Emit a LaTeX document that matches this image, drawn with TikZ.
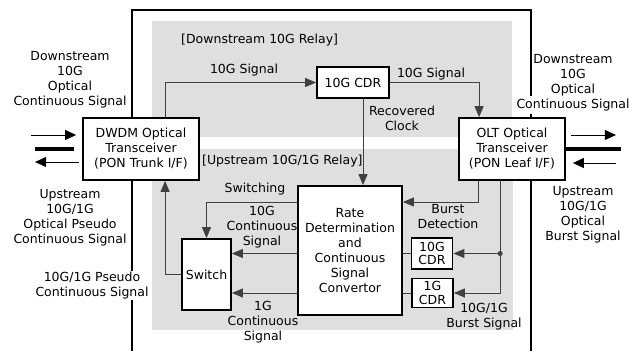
\documentclass[tikz,border=0pt]{standalone}
\usepackage{fontspec}
\setmainfont{DejaVu Sans}
\usetikzlibrary{arrows.meta}

\tikzset{
  box/.style={draw, line width=1.8pt, fill=white, align=center, inner sep=0pt},
  conn/.style={-{Triangle[length=11pt,width=9pt]}, line width=1pt, black!75},
  wire/.style={line width=1pt, black!75},
  ext/.style={-{Triangle[length=11pt,width=10pt]}, line width=1pt},
  lbl/.style={align=center, inner sep=0pt},
  panel/.style={fill=gray!25},
  frame/.style={line width=1.8pt},
}

\begin{document}
\begin{tikzpicture}[x=1pt, y=-1pt, font=\fontsize{12.5}{15}\selectfont]
  \useasboundingbox (0,0) rectangle (640,351);
  % relay areas
  \fill[panel] (152,21) rectangle (512,137);
  \fill[panel] (152,149) rectangle (513,330);
  % equipment frame
  \draw[frame] (132,118) -- (132,10) -- (531,10) -- (531,96);
  \draw[frame] (531,114) -- (531,118);
  \draw[frame] (132,180) -- (132,351);
  \draw[frame] (531,180) -- (531,351);

  % blocks
  \node[box, minimum width=116pt, minimum height=62pt] (dwdm) at (141,149) {DWDM Optical\\Transceiver\\(PON Trunk I/F)};
  \node[box, minimum width=106pt, minimum height=62pt] (olt) at (512,149) {OLT Optical\\Transceiver\\(PON Leaf I/F)};
  \node[box, minimum width=72pt, minimum height=31pt] (cdrtop) at (353,82.5) {10G CDR};
  \node[box, minimum width=104pt, minimum height=129pt] (rate) at (350,250.5) {Rate\\Determination\\and\\Continuous\\Signal\\Convertor};
  \node[box, minimum width=49pt, minimum height=71pt] (switch) at (206.5,274.5) {Switch};
  \node[box, minimum width=41pt, minimum height=31pt, font=\fontsize{12.5}{13.5}\selectfont] (cdrten) at (432,253.5) {10G\\CDR};
  \node[box, minimum width=41pt, minimum height=29pt, font=\fontsize{12.5}{13.5}\selectfont] (cdrone) at (432.5,293) {1G\\CDR};

  % downstream relay
  \draw[conn] ([xshift=83pt]dwdm.north west) |- (cdrtop.west);
  \draw[conn] (cdrtop.east) -| ([xshift=21pt]olt.north west);
  \draw[conn] ([xshift=10pt]cdrtop.south) -- ([xshift=10pt]cdrtop.south |- rate.north);

  % upstream relay
  \draw[conn] ([xshift=20pt]olt.south west) |- ([yshift=48.5pt]rate.east);
  \coordinate (burst) at ([xshift=42pt]olt.south west |- cdrten.east);
  \draw[conn] ([xshift=42pt]olt.south west) |- (cdrone.east);
  \draw[conn] (burst) -- (cdrten.east);
  \fill[black!75] (burst) circle (2.5pt);
  \draw[wire] (cdrten.west) -- (cdrten.west -| rate.east);
  \draw[wire] (cdrone.west) -- (cdrone.west -| rate.east);
  \draw[conn] ([yshift=48.5pt]rate.west) -| (switch.north);
  \draw[conn] (rate.west |- cdrten.west) -- (switch.east |- cdrten.west);
  \draw[conn] (rate.west |- cdrone.west) -- (switch.east |- cdrone.west);
  \draw[conn] (switch.west) -| ([xshift=83pt]dwdm.south west);

  % optical fibres
  \draw[ext] ([xshift=-51pt,yshift=14pt]dwdm.west) -- ([xshift=-6pt,yshift=14pt]dwdm.west);
  \draw[line width=4pt] ([xshift=-47pt]dwdm.west) -- ([xshift=-8pt]dwdm.west);
  \draw[ext] ([xshift=-3pt,yshift=-13pt]dwdm.west) -- ([xshift=-47pt,yshift=-13pt]dwdm.west);
  \draw[ext] ([xshift=5pt,yshift=14pt]olt.east) -- ([xshift=50pt,yshift=14pt]olt.east);
  \draw[line width=4pt] (olt.east) -- ([xshift=55pt]olt.east);
  \draw[ext] ([xshift=50pt,yshift=-14pt]olt.east) -- ([xshift=7pt,yshift=-14pt]olt.east);

  % labels
  \node[lbl] (dsleft) at (70,80) {Downstream\\10G\\Optical\\Continuous Signal};
  \node[lbl] (usleft) at (70,217.5) {Upstream\\10G/1G\\Optical Pseudo\\Continuous Signal};
  \node[lbl, fill=white, inner sep=1pt] (pseudo) at (92,285.5) {10G/1G Pseudo\\Continuous Signal};
  \node[lbl] (dsright) at (573,83) {Downstream\\10G\\Optical\\Continuous Signal};
  \node[lbl] (usright) at (583,214.5) {Upstream\\10G/1G\\Optical\\Burst Signal};
  \node[lbl, anchor=west] (dstitle) at (181,40) {[Downstream 10G Relay]};
  \node[lbl, anchor=west] (ustitle) at (202,161) {[Upstream 10G/1G Relay]};
  \node[lbl] (sigin) at (244,70) {10G Signal};
  \node[lbl] (sigout) at (431,74) {10G Signal};
  \node[lbl] (clock) at (402,118) {Recovered\\Clock};
  \node[lbl] (swlbl) at (255,189) {Switching};
  \node[lbl] (tenlbl) at (262,227) {10G\\Continuous\\Signal};
  \node[lbl] (onelbl) at (263,322) {1G\\Continuous\\Signal};
  \node[lbl] (detlbl) at (448,216.5) {Burst\\Detection};
  \node[lbl] (burstlbl) at (484,316.5) {10G/1G\\Burst Signal};
\end{tikzpicture}
\end{document}
